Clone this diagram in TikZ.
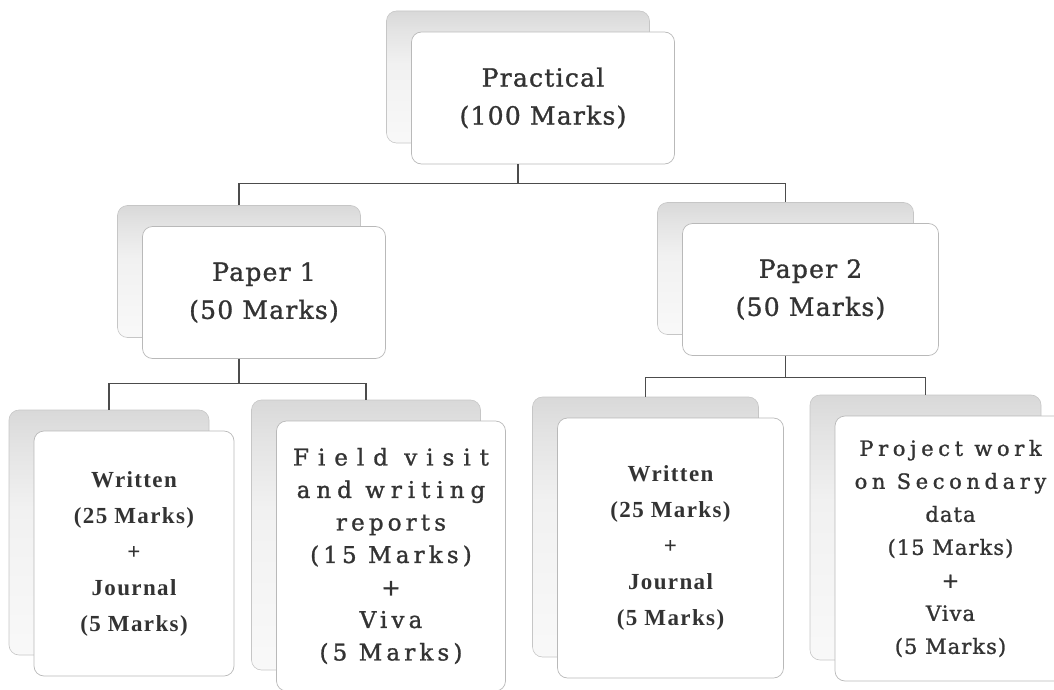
\documentclass[tikz,border=0pt]{standalone}
\usepackage{fontspec}
\usetikzlibrary{positioning,calc}

\newfontfamily\headfont[LetterSpace=5,FakeBold=1.2]{DejaVu Serif}
\newfontfamily\markfont[LetterSpace=6]{Liberation Serif}
\newfontfamily\leaffont[LetterSpace=18,FakeBold=1.2]{DejaVu Serif}
\newfontfamily\projfont[LetterSpace=5,FakeBold=1.2]{DejaVu Serif}
\newcommand{\stretchline}[2]{{\addfontfeature{LetterSpace=#1}#2}}

\colorlet{fadelow}{gray!5}
\colorlet{fademid}{gray!11}
\colorlet{fadeband}{gray!22}
\colorlet{fadetop}{gray!30}
\pgfdeclareverticalshading{backfade}{100bp}{color(0bp)=(fadelow); color(25bp)=(fadelow); color(55bp)=(fademid); color(68bp)=(fadeband); color(75bp)=(fadetop); color(100bp)=(fadetop)}

\begin{document}
\begin{tikzpicture}[
    x=1pt, y=-1pt,
    boxsize/.style 2 args={minimum width=#1pt, minimum height=#2pt},
    backbox/.style={draw=gray!45, line width=0.6pt, rounded corners=10pt, shading=backfade, inner sep=0pt},
    frontbox/.style={draw=gray!55, line width=0.7pt, fill=white, rounded corners=10pt, align=center, inner sep=0pt, text=black!80},
    headbox/.style={frontbox, font=\headfont\fontsize{25}{38}\selectfont},
    markbox/.style={frontbox, font=\markfont\bfseries\fontsize{23}{36}\selectfont},
    leafbox/.style={frontbox, font=\leaffont\fontsize{23}{32.5}\selectfont},
    projbox/.style={frontbox, font=\projfont\fontsize{21}{33}\selectfont},
    link/.style={draw=black!70, line width=1.2pt}
]
\useasboundingbox (0,0) rectangle (1054,690);

% back cards (shaded copies behind each box)
\node[backbox, boxsize={263}{132}] (pracb) at (518,77) {};
\node[backbox, boxsize={243}{132}] (p1b) at (239,271.5) {};
\node[backbox, boxsize={256}{132}] (p2b) at (785.5,268.5) {};
\node[backbox, boxsize={200}{245}] (w1b) at (109,532.5) {};
\node[backbox, boxsize={229}{270}] (fvb) at (366,535) {};
\node[backbox, boxsize={226}{260}] (w2b) at (645.5,527) {};
\node[backbox, boxsize={231}{265}] (pwb) at (925.5,527.5) {};

% front cards
\node[headbox, boxsize={263}{132}] (prac) at ($(pracb)+(25,21)$) {Practical\\(100 Marks)};
\node[headbox, boxsize={243}{132}] (p1) at ($(p1b)+(25,21)$) {Paper 1\\(50 Marks)};
\node[headbox, boxsize={256}{132}] (p2) at ($(p2b)+(25,21)$) {Paper 2\\(50 Marks)};
\node[markbox, boxsize={200}{245}] (w1) at ($(w1b)+(25,21)$) {Written\\(25 Marks)\\+\\Journal\\(5 Marks)};
\node[leafbox, boxsize={229}{270}] (fv) at ($(fvb)+(25,21)$)
    {\stretchline{39}{Field visit}\\\stretchline{26}{and writing}\\reports\\(15 Marks)\\+\\Viva\\(5 Marks)};
\node[markbox, boxsize={226}{260}] (w2) at ($(w2b)+(25,21)$) {Written\\(25 Marks)\\+\\Journal\\(5 Marks)};
\node[projbox, boxsize={231}{265}] (pw) at ($(pwb)+(25,21)$)
    {\stretchline{22}{Project work}\\\stretchline{22}{on Secondary}\\data\\(15 Marks)\\+\\Viva\\(5 Marks)};

% tree connectors
\draw[link] (pracb |- prac.south) -- ++(0,19) -| (p1b.north);
\draw[link] (pracb |- prac.south) -- ++(0,19) -| (p2b.north);
\draw[link] (p1b |- p1.south) -- ++(0,25) -| (w1b.north);
\draw[link] (p1b |- p1.south) -- ++(0,25) -| (fvb.north);
\draw[link] (p2b |- p2.south) -- ++(0,22) -| (w2b.north);
\draw[link] (p2b |- p2.south) -- ++(0,22) -| (pwb.north);

\end{tikzpicture}
\end{document}
